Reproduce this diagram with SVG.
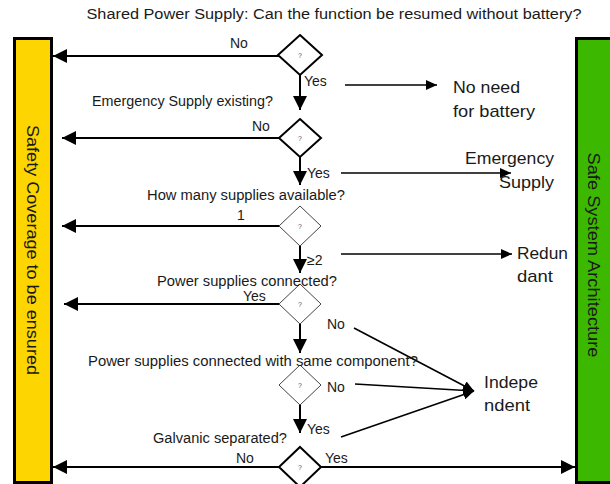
<svg xmlns="http://www.w3.org/2000/svg" width="610" height="484" viewBox="0 0 610 484">
<style>
.t{font-family:"Liberation Sans",Arial,sans-serif;fill:#1a1a1a}
.s{font-size:14px}
.b{font-size:17px}
.q{font-family:"Liberation Sans",Arial,sans-serif;font-size:7px;fill:#555;text-anchor:middle}
.ln{stroke:#000;stroke-width:2;fill:none}
.ln2{stroke:#000;stroke-width:1.6;fill:none}
.dm{fill:#fff;stroke:#000;stroke-width:2}
.dl{fill:#fff;stroke:#444;stroke-width:1}
</style>
<defs>
<marker id="ah" markerUnits="userSpaceOnUse" viewBox="0 0 14 14" refX="14" refY="7" markerWidth="14" markerHeight="14" orient="auto"><path d="M0,0 L14,7 L0,14 z" fill="#000"/></marker>
<marker id="as" markerUnits="userSpaceOnUse" viewBox="0 0 11 10" refX="11" refY="5" markerWidth="11" markerHeight="10" orient="auto"><path d="M0,0 L11,5 L0,10 z" fill="#000"/></marker>
</defs>
<rect width="610" height="484" fill="#fff"/>
<text class="t" font-size="14" x="334" y="19" text-anchor="middle" textLength="495" lengthAdjust="spacingAndGlyphs">Shared Power Supply: Can the function be resumed without battery?</text>
<g id="safety">
<rect x="14.5" y="38.5" width="37" height="444" fill="#FDD500" stroke="#000" stroke-width="3"/>
<text class="t" font-size="16" transform="translate(27,250) rotate(90)" text-anchor="middle" textLength="250" lengthAdjust="spacingAndGlyphs">Safety Coverage to be ensured</text>
</g>
<g id="safe">
<rect x="576.5" y="38.5" width="40" height="444" fill="#3CB800" stroke="#000" stroke-width="3"/>
<text class="t" font-size="16" transform="translate(588,255) rotate(90)" text-anchor="middle" textLength="205" lengthAdjust="spacingAndGlyphs">Safe System Architecture</text>
</g>
<g id="connectors">
<line class="ln" x1="279" y1="56" x2="53" y2="56" marker-end="url(#ah)"/>
<line class="ln" x1="300" y1="75" x2="300" y2="110" marker-end="url(#ah)"/>
<line class="ln2" x1="345" y1="85" x2="437" y2="85" marker-end="url(#as)"/>
<line class="ln" x1="279" y1="138" x2="62" y2="138" marker-end="url(#ah)"/>
<line class="ln" x1="300" y1="157" x2="300" y2="185" marker-end="url(#ah)"/>
<line class="ln2" x1="341" y1="173" x2="511" y2="173" marker-end="url(#as)"/>
<line class="ln" x1="279" y1="226" x2="62" y2="226" marker-end="url(#ah)"/>
<line class="ln" x1="300" y1="246" x2="300" y2="273" marker-end="url(#ah)"/>
<line class="ln2" x1="341" y1="254" x2="512" y2="254" marker-end="url(#as)"/>
<line class="ln" x1="279" y1="304" x2="64" y2="304" marker-end="url(#ah)"/>
<line class="ln" x1="300" y1="324" x2="300" y2="353" marker-end="url(#ah)"/>
<line class="ln2" x1="354" y1="328" x2="474" y2="391" marker-end="url(#as)"/>
<line class="ln" x1="300" y1="405" x2="300" y2="433" marker-end="url(#ah)"/>
<line class="ln2" x1="355" y1="384" x2="474" y2="391" marker-end="url(#as)"/>
<line class="ln2" x1="341" y1="437" x2="474" y2="391" marker-end="url(#as)"/>
<line class="ln" x1="279" y1="467" x2="53" y2="467" marker-end="url(#ah)"/>
<line class="ln" x1="321" y1="467" x2="575" y2="467" marker-end="url(#ah)"/>
</g>
<g id="q1">
<path class="dm" d="M300,35 L322,55 L300,75 L278,55 z"/><text class="q" x="300" y="58">?</text>
</g>
<g id="q2">
<path class="dm" d="M300,119 L321,138 L300,157 L279,138 z"/><text class="q" x="300" y="141">?</text>
</g>
<g id="q3">
<path class="dl" d="M300,206 L321,226 L300,246 L279,226 z"/><text class="q" x="300" y="229">?</text>
</g>
<g id="q4">
<path class="dl" d="M300,284 L321,304 L300,324 L279,304 z"/><text class="q" x="300" y="307">?</text>
</g>
<g id="q5">
<path class="dl" d="M300,365 L321,385 L300,405 L279,385 z"/><text class="q" x="300" y="388">?</text>
</g>
<g id="q6">
<path class="dm" d="M300,447 L321,467 L300,487 L279,467 z" stroke-width="2.5"/><text class="q" x="300" y="470">?</text>
</g>
<g id="labels">
<text class="t s" x="230" y="48">No</text>
<text class="t s" x="304" y="86">Yes</text>
<text class="t s" x="92" y="106" textLength="181" lengthAdjust="spacingAndGlyphs">Emergency Supply existing?</text>
<text class="t s" x="252" y="131">No</text>
<text class="t s" x="307" y="178">Yes</text>
<text class="t s" x="147" y="200" textLength="198" lengthAdjust="spacingAndGlyphs">How many supplies available?</text>
<text class="t s" x="237" y="220">1</text>
<text class="t s" x="307" y="265">≥2</text>
<text class="t s" x="157" y="286" textLength="180" lengthAdjust="spacingAndGlyphs">Power supplies connected?</text>
<text class="t s" x="243" y="301">Yes</text>
<text class="t s" x="327" y="329">No</text>
<text class="t s" x="88" y="366" textLength="330" lengthAdjust="spacingAndGlyphs">Power supplies connected with same component?</text>
<text class="t s" x="327" y="392">No</text>
<text class="t s" x="307" y="434">Yes</text>
<text class="t s" x="153" y="443" textLength="134" lengthAdjust="spacingAndGlyphs">Galvanic separated?</text>
<text class="t s" x="236" y="463">No</text>
<text class="t s" x="325" y="463">Yes</text>
</g>
<g id="results">
<text class="t b" x="453" y="93" textLength="67" lengthAdjust="spacingAndGlyphs">No need</text>
<text class="t b" x="453" y="117" textLength="82" lengthAdjust="spacingAndGlyphs">for battery</text>
<text class="t b" x="465" y="164" textLength="89" lengthAdjust="spacingAndGlyphs">Emergency</text>
<text class="t b" x="499" y="188" textLength="55" lengthAdjust="spacingAndGlyphs">Supply</text>
<text class="t b" x="517" y="259" textLength="51" lengthAdjust="spacingAndGlyphs">Redun</text>
<text class="t b" x="517" y="282" textLength="36" lengthAdjust="spacingAndGlyphs">dant</text>
<text class="t b" x="484" y="388" textLength="54" lengthAdjust="spacingAndGlyphs">Indepe</text>
<text class="t b" x="484" y="411" textLength="46" lengthAdjust="spacingAndGlyphs">ndent</text>
</g>
</svg>
